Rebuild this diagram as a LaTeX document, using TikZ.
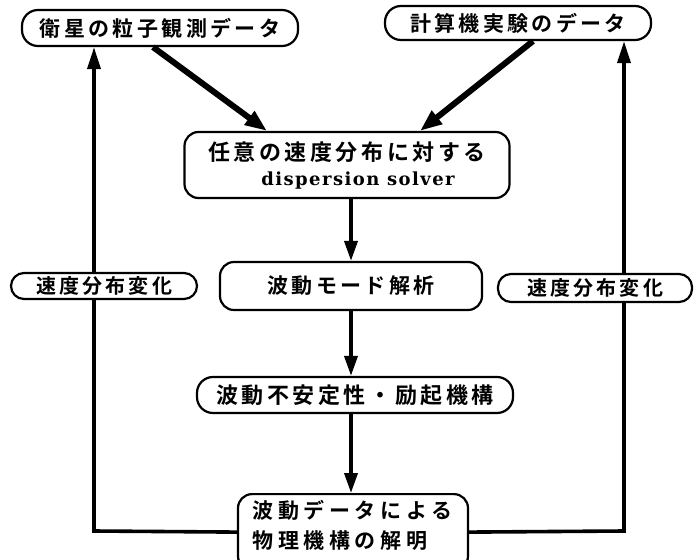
\documentclass[tikz,border=0pt]{standalone}
\usepackage{fontspec}
\usetikzlibrary{arrows.meta}
\newfontfamily\jp[LetterSpace=16]{Noto Sans CJK JP Bold}
\newfontfamily\jpw[LetterSpace=22]{Noto Sans CJK JP Bold}
\newfontfamily\lat[LetterSpace=8]{DejaVu Serif}
\tikzset{
  box/.style={draw, line width=2.2pt, rounded corners=14pt, align=center, inner sep=0pt, fill=white},
  pill/.style={box, rounded corners=16pt},
  jt/.style={font=\jp\fontsize{21}{28}\selectfont},
  thick arrow/.style={line width=6pt, -{Triangle[length=22pt,width=16pt]}},
  flow/.style={line width=3.6pt, -{Triangle[length=20pt,width=13pt]}},
  fb/.style={line width=3.6pt, -{Triangle[length=22pt,width=13pt]}}
}
\begin{document}
\begin{tikzpicture}[x=1pt,y=-1pt]
\useasboundingbox (0,0) rectangle (695,559);
\fill[white] (0,0) rectangle (695,559);
% main nodes
\node[pill, jt, minimum width=276, minimum height=36] (sat) at (160,28) {衛星の粒子観測データ};
\node[pill, jt, minimum width=266, minimum height=34] (comp) at (518,23) {計算機実験のデータ};
\node[box, font=\fontsize{22}{25}\selectfont, minimum width=325, minimum height=66] (solver) at (347,165)
  {{\jp 任意の速度分布に対する}\\
   \hspace*{22pt}{\lat\bfseries\fontsize{18}{25}\selectfont dispersion solver}};
\node[box, jt, minimum width=262, minimum height=48] (mode) at (351,286) {波動モード解析};
\node[pill, font=\jp\fontsize{22}{28}\selectfont, minimum width=316, minimum height=36] (inst) at (355,395) {波動不安定性・励起機構};
\node[box, minimum width=230, minimum height=76, anchor=north] (phys) at (353,493) {};
\node[font=\jpw\fontsize{21}{30}\selectfont, align=left, anchor=north west] (physT) at (249,497) {波動データによる\\物理機構の解明};
% feedback corners
\coordinate (L) at (94,531);
\coordinate (R) at (624,531);
% connectors
\draw[thick arrow] ([xshift=-7]sat.south) -- ([xshift=-80]solver.north);
\draw[thick arrow] ([xshift=15]comp.south) -- ([xshift=73]solver.north);
\draw[flow] (solver.south -| mode.north) -- (mode.north);
\draw[flow] (mode.south) -- (mode.south |- inst.north);
\draw[flow] (mode.south |- inst.south) -- (mode.south |- phys.north);
\draw[fb] (phys.west) -- (L) -- (L |- sat.south);
\draw[fb] (phys.east) -- (R) -- (R |- comp.south);
% labels on feedback lines
\node[pill, font=\jp\fontsize{20}{26}\selectfont, minimum width=186, minimum height=26, rounded corners=13pt] (lv) at (104,286) {速度分布変化};
\node[pill, font=\jp\fontsize{20}{26}\selectfont, minimum width=194, minimum height=28, rounded corners=13pt] (rv) at (595,288) {速度分布変化};
\end{tikzpicture}
\end{document}
